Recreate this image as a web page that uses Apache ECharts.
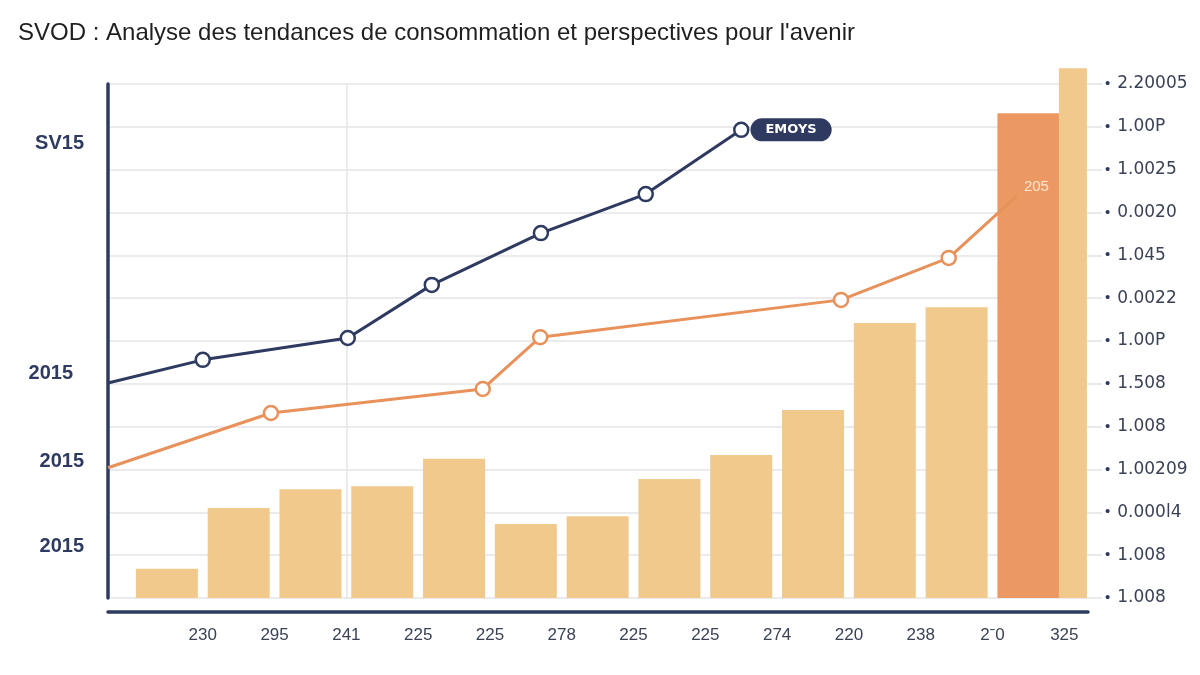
<!DOCTYPE html>
<html>
<head>
<meta charset="utf-8">
<script src="https://cdn.jsdelivr.net/npm/echarts@6/dist/echarts.min.js"></script>
<style>
  html, body { margin: 0; padding: 0; background: #ffffff; }
  #chart { width: 1200px; height: 675px; }
</style>
</head>
<body>
<div id="chart"></div>
<script>
// ---- data ----
const titleText = "SVOD : Analyse des tendances de consommation et perspectives pour l'avenir";
const xLabels = ['230', '295', '241', '225', '225', '278', '225', '225', '274', '220', '238', '2ˉ0', '325'];
const xLabelPos = [1, 2, 3, 4, 5, 6, 7, 8, 9, 10, 11, 12, 13];
const rightLabels = ['1.008', '1.008', '0.000l4', '1.00209', '1.008', '1.508', '1.00P', '0.0022', '1.045', '0.0020', '1.0025', '1.00P', '2.20005'];
const leftLabels = ['SV15', '2015', '2015', '2015'];
const leftLabelPos = [10.62, 5.25, 3.18, 1.21];
const barPos = [0.5, 1.5, 2.5, 3.5, 4.5, 5.5, 6.5, 7.5, 8.5, 9.5, 10.5, 11.5, 12.5];
const barValues = [0.68, 2.10, 2.54, 2.61, 3.25, 1.73, 1.91, 2.78, 3.34, 4.39, 6.42, 6.79, 11.32];
const highlightIndex = 12;
const edgeBarPos = [13.12];
const edgeBarValues = [12.37];
const darkX = [-0.32, 1.00, 3.02, 4.19, 5.71, 7.17, 8.50];
const darkY = [5.02, 5.56, 6.07, 7.31, 8.52, 9.43, 10.93];
const darkEndLabel = 'EMOYS';
const orangeX = [-0.32, 1.95, 4.90, 5.70, 9.89, 11.39, 12.34];
const orangeY = [3.04, 4.32, 4.88, 6.09, 6.96, 7.94, 9.39];
const orangeEndLabel = '205';
const verticalGridAt = [3.01];

// ---- styling ----
const NAVY = '#2e3a5f';
const ORANGE_LINE = '#e8915a';
const BAR_LIGHT = '#f2c98d';
const BAR_ORANGE = '#ec9862';
const GRID_COLOR = '#e4e4e8';
const TEXT_GRAY = '#3b4256';
const X_MIN = -0.32, X_MAX = 13.33;

const pairs = (xs, ys) => xs.map((x, i) => [x, ys[i]]);

const barData = pairs(barPos, barValues).map((p, i) =>
  i === highlightIndex ? { value: p, itemStyle: { color: BAR_ORANGE } } : { value: p });

const darkData = pairs(darkX, darkY).map((p, i, arr) => {
  const item = { value: p };
  if (i === 0) item.symbol = 'none';
  if (i === arr.length - 1) {
    item.label = {
      show: true, position: 'right', distance: 1, formatter: darkEndLabel,
      backgroundColor: NAVY, color: '#ffffff', fontFamily: 'DejaVu Sans',
      fontWeight: 'bold', fontSize: 13, padding: [5, 15, 5, 15], borderRadius: 12
    };
  }
  return item;
});

const orangeData = pairs(orangeX, orangeY).map((p, i, arr) => {
  const item = { value: p };
  if (i === 0 || i === arr.length - 1) item.symbol = 'none';
  return item;
});

const chart = echarts.init(document.getElementById('chart'), null, { renderer: 'canvas' });
chart.setOption({
  backgroundColor: '#ffffff',
  animation: false,
  title: {
    text: titleText, left: 13, top: 16,
    textStyle: { fontFamily: 'Liberation Sans', fontSize: 24, fontWeight: 'normal', color: '#1f1f1f' }
  },
  grid: { left: 108, right: 112, top: 84, bottom: 77 },
  xAxis: [
    {
      type: 'value', min: X_MIN, max: X_MAX,
      axisLine: { show: false, onZero: false }, axisLabel: { show: false },
      axisTick: { show: false, customValues: verticalGridAt },
      splitLine: { show: true, lineStyle: { color: GRID_COLOR, width: 1.5 } }
    },
    {
      type: 'value', min: X_MIN, max: X_MAX, position: 'bottom', offset: 14,
      axisLine: { show: true, onZero: false, lineStyle: { color: NAVY, width: 3.5 } },
      axisTick: { show: false, customValues: xLabelPos },
      splitLine: { show: false },
      axisLabel: {
        customValues: xLabelPos, margin: 15,
        formatter: v => xLabels[Math.round(v) - 1],
        fontFamily: 'Liberation Sans', fontSize: 17, color: TEXT_GRAY
      }
    }
  ],
  yAxis: [
    {
      type: 'value', position: 'right', min: 0, max: 12, interval: 1,
      axisLine: { show: false, onZero: false },
      axisTick: { show: true, length: 14, lineStyle: { color: GRID_COLOR, width: 1.5 } },
      splitLine: { show: true, lineStyle: { color: GRID_COLOR, width: 1.5 } },
      axisLabel: {
        margin: 17,
        formatter: v => '{d|•}{t|' + rightLabels[Math.round(v)] + '}',
        rich: {
          d: { color: NAVY, fontSize: 15, padding: [0, 7, 0, 0] },
          t: { color: TEXT_GRAY, fontSize: 17, fontFamily: 'DejaVu Sans' }
        }
      }
    },
    {
      type: 'value', position: 'left', min: 0, max: 12,
      axisLine: { show: true, onZero: false, lineStyle: { color: NAVY, width: 3.5 } },
      axisTick: { show: false, customValues: leftLabelPos },
      splitLine: { show: false },
      axisLabel: {
        customValues: leftLabelPos, margin: 24,
        formatter: (v) => {
          const i = leftLabelPos.indexOf(v);
          const s = leftLabels[i >= 0 ? i : 0];
          return i === 1 ? '{s|' + s + '}' : s;
        },
        fontFamily: 'Liberation Sans', fontSize: 20, fontWeight: 'bold', color: NAVY,
        rich: { s: { fontFamily: 'Liberation Sans', fontSize: 20, fontWeight: 'bold', color: NAVY, padding: [0, 11, 0, 0] } }
      }
    }
  ],
  series: [
    {
      type: 'bar', xAxisIndex: 0, yAxisIndex: 0, barWidth: 62,
      itemStyle: { color: BAR_LIGHT },
      data: barData
    },
    {
      type: 'bar', xAxisIndex: 1, yAxisIndex: 0, barWidth: 28, clip: false,
      itemStyle: { color: BAR_LIGHT },
      data: pairs(edgeBarPos, edgeBarValues)
    },
    {
      type: 'line', xAxisIndex: 0, yAxisIndex: 0, z: 5,
      symbol: 'circle', symbolSize: 14,
      lineStyle: { color: NAVY, width: 3 },
      itemStyle: { color: '#ffffff', borderColor: NAVY, borderWidth: 2.5 },
      data: darkData
    },
    {
      type: 'line', xAxisIndex: 0, yAxisIndex: 0, z: 5,
      symbol: 'circle', symbolSize: 14,
      lineStyle: { color: ORANGE_LINE, width: 3 },
      itemStyle: { color: '#ffffff', borderColor: ORANGE_LINE, borderWidth: 2.5 },
      endLabel: {
        show: true, formatter: orangeEndLabel, distance: 7, offset: [0, -9],
        color: '#fde6d2', fontSize: 15, fontFamily: 'Liberation Sans'
      },
      data: orangeData
    }
  ]
});
</script>
</body>
</html>
